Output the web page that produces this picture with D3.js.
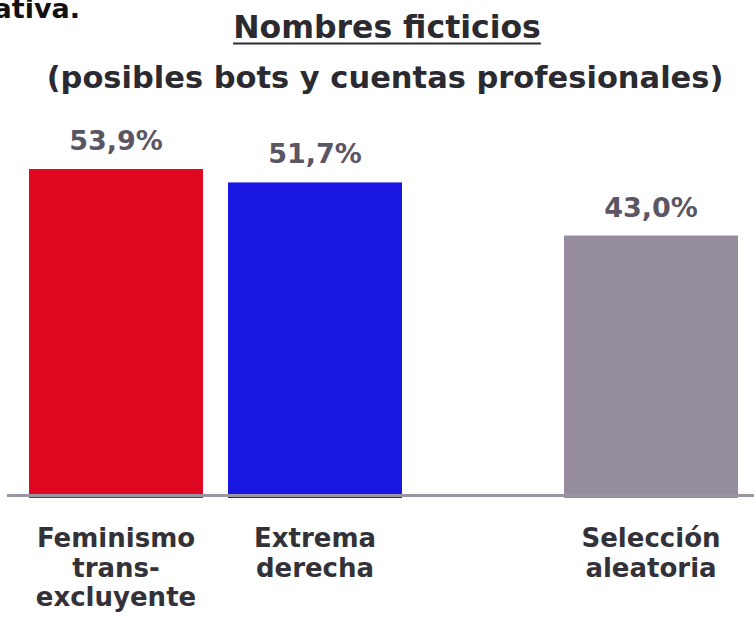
<!DOCTYPE html>
<html>
<head>
<meta charset="utf-8">
<script src="https://cdn.jsdelivr.net/npm/d3@7/dist/d3.min.js"></script>
<style>
  html, body { margin: 0; padding: 0; background: #fff; }
  svg { display: block; }
  text { font-family: "DejaVu Sans", "Open Sans", sans-serif; font-weight: 700; }
</style>
</head>
<body>
<svg id="chart" width="754" height="620"></svg>
<script>
// Share of accounts with fictitious names, by group
const categories = [
  ["Feminismo", "trans-", "excluyente"],
  ["Extrema", "derecha"],
  ["Selección", "aleatoria"]
];
const values = [53.9, 51.7, 43.0];
const valueLabels = ["53,9%", "51,7%", "43,0%"];
const barColors = ["#e00820", "#1a17e2", "#958d9d"];
const titleLines = ["Nombres ficticios", "(posibles bots y cuentas profesionales)"];
const carryOverText = "representativa.";

const svg = d3.select("#chart");
const W = 754;

// Layout: two adjacent bars, then a separated comparison bar on the right
const baseY = 498;
const y = d3.scaleLinear().domain([0, 53.9]).range([baseY, 169]);
const groupX = d3.scaleBand().domain([0, 1]).range([29, 402]).paddingInner(25 / 199);
const barW = groupX.bandwidth();
const xPos = i => (i < 2 ? groupX(i) : 738 - barW);

// Trailing sentence from the previous line of text
svg.append("text")
  .attr("x", 80).attr("y", 18)
  .attr("text-anchor", "end")
  .attr("font-size", 27)
  .attr("fill", "#111")
  .text(carryOverText);

// Title
const title = svg.append("text")
  .attr("x", 387).attr("y", 38)
  .attr("text-anchor", "middle")
  .attr("font-size", 31.5)
  .attr("fill", "#2b2a30")
  .text(titleLines[0]);
const tb = title.node().getBBox();
svg.append("line")
  .attr("x1", tb.x).attr("x2", tb.x + tb.width)
  .attr("y1", 43.5).attr("y2", 43.5)
  .attr("stroke", "#2b2a30").attr("stroke-width", 2);

svg.append("text")
  .attr("x", 385).attr("y", 88)
  .attr("text-anchor", "middle")
  .attr("font-size", 30.5)
  .attr("fill", "#2b2a30")
  .text(titleLines[1]);

// Bars
svg.selectAll("rect.bar")
  .data(values)
  .join("rect")
  .attr("class", "bar")
  .attr("x", (d, i) => xPos(i))
  .attr("width", barW)
  .attr("y", d => y(d))
  .attr("height", d => baseY - y(d))
  .attr("fill", (d, i) => barColors[i]);

// Baseline
svg.append("line")
  .attr("x1", 7).attr("x2", W)
  .attr("y1", 495.5).attr("y2", 495.5)
  .attr("stroke", "#9b95a2").attr("stroke-width", 3);

// Value labels
svg.selectAll("text.val")
  .data(values)
  .join("text")
  .attr("class", "val")
  .attr("x", (d, i) => xPos(i) + barW / 2)
  .attr("y", d => y(d) - 19)
  .attr("text-anchor", "middle")
  .attr("font-size", 27)
  .attr("fill", "#5b5663")
  .text((d, i) => valueLabels[i]);

// Category labels, one text per line
svg.selectAll("g.cat")
  .data(categories)
  .join("g")
  .attr("class", "cat")
  .each(function (lines, i) {
    d3.select(this).selectAll("text")
      .data(lines)
      .join("text")
      .attr("x", xPos(i) + barW / 2)
      .attr("y", (d, j) => 547 + j * 29.5)
      .attr("text-anchor", "middle")
      .attr("font-size", 26)
      .attr("fill", "#333238")
      .text(d => d);
  });
</script>
</body>
</html>
